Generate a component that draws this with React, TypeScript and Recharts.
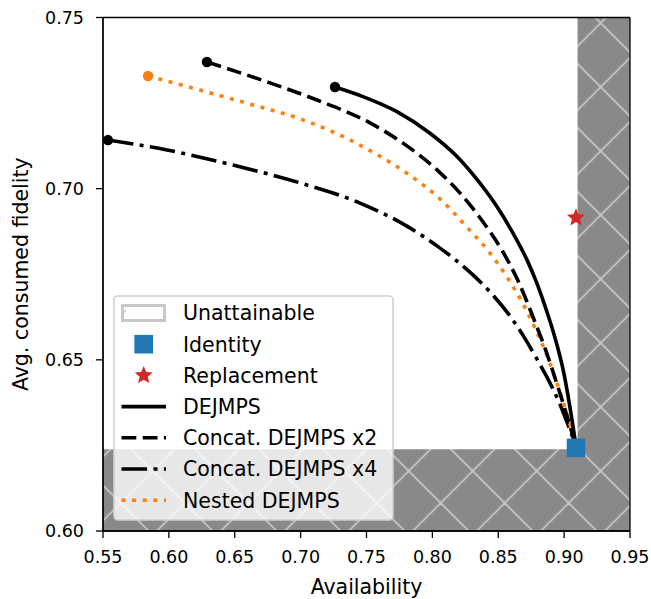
import React from 'react';
import {
  ComposedChart, Line, Scatter, XAxis, YAxis, ReferenceArea, ReferenceLine, Legend,
} from 'recharts';

// ---- data ----
const xTicks = [0.55, 0.6, 0.65, 0.7, 0.75, 0.8, 0.85, 0.9, 0.95];
const yTicks = [0.6, 0.65, 0.7, 0.75];

const dejmpsX = [0.7261, 0.7473, 0.7731, 0.7982, 0.8187, 0.8361, 0.8491, 0.8612, 0.8718, 0.8787, 0.8855, 0.8931, 0.8999, 0.906, 0.909];
const dejmpsY = [0.7297, 0.7269, 0.7225, 0.7162, 0.7094, 0.7016, 0.6947, 0.687, 0.6792, 0.673, 0.6657, 0.6564, 0.6459, 0.6324, 0.6248];

const concat2X = [0.6289, 0.6745, 0.7124, 0.7527, 0.7777, 0.8035, 0.821, 0.8384, 0.8536, 0.8657, 0.8764, 0.8862, 0.8946, 0.9022, 0.909];
const concat2Y = [0.737, 0.7312, 0.7259, 0.7192, 0.7133, 0.7055, 0.6987, 0.6903, 0.6815, 0.6725, 0.6625, 0.6526, 0.6429, 0.6336, 0.6245];

const concat4X = [0.5538, 0.5986, 0.6487, 0.6995, 0.7451, 0.7777, 0.8035, 0.8308, 0.846, 0.8589, 0.8695, 0.8794, 0.8885, 0.8961, 0.9022, 0.909];
const concat4Y = [0.7142, 0.7113, 0.7069, 0.7017, 0.6958, 0.6897, 0.6833, 0.6748, 0.6689, 0.6628, 0.6567, 0.6502, 0.6438, 0.6377, 0.6318, 0.6248];

const nestedX = [0.5842, 0.6236, 0.6616, 0.6995, 0.7238, 0.7527, 0.7807, 0.8058, 0.8278, 0.8437, 0.8566, 0.868, 0.8779, 0.8862, 0.8938, 0.9007, 0.9052, 0.909];
const nestedY = [0.7329, 0.7288, 0.7247, 0.7204, 0.7167, 0.7111, 0.7045, 0.697, 0.6881, 0.6812, 0.6742, 0.6669, 0.6593, 0.652, 0.6441, 0.6359, 0.6301, 0.6248];

const identityPt = [{ x: 0.909, y: 0.6243 }];
const replacementPt = [{ x: 0.909, y: 0.6915 }];

const unattainableX = 0.9102;
const unattainableY = 0.6239;

const legendLabels = ['Unattainable', 'Identity', 'Replacement', 'DEJMPS', 'Concat. DEJMPS x2', 'Concat. DEJMPS x4', 'Nested DEJMPS'];

const zip = (xs: number[], ys: number[]) => xs.map((x, i) => ({ x, y: ys[i] }));
const dejmps = zip(dejmpsX, dejmpsY);
const concat2 = zip(concat2X, concat2Y);
const concat4 = zip(concat4X, concat4Y);
const nested = zip(nestedX, nestedY);

const FONT = 'DejaVu Sans';
const BLUE = '#1f77b4';
const RED = '#d62728';
const ORANGE = '#ff7f0e';
const LW = 3.6;
const DASH = '14.8 6.4';
const DASHDOT = '25.6 6.4 4 6.4';
const DOT = '4 6.6';

const starPath = (cx: number, cy: number, R: number) => {
  const r = R * 0.45;
  const pts: string[] = [];
  for (let i = 0; i < 10; i++) {
    const a = -Math.PI / 2 + (i * Math.PI) / 5;
    const rad = i % 2 === 0 ? R : r;
    pts.push(`${cx + rad * Math.cos(a)},${cy + rad * Math.sin(a)}`);
  }
  return pts.join(' ');
};

const startDot = (color: string) => (props: any) => {
  if (props.index === 0) {
    return <circle key={`s-${props.index}`} cx={props.cx} cy={props.cy} r={5.2} fill={color} />;
  }
  return <g key={`s-${props.index}`} />;
};

const renderLegend = () => {
  const rowY = (i: number) => 18 + i * 31.2;
  const hx1 = 8, hx2 = 53, mx = 30.7, tx = 70;
  return (
    <svg width={281} height={226} style={{ display: 'block' }}>
      <rect x={1} y={1} width={279} height={224} rx={4} ry={4}
        fill="rgba(255,255,255,0.8)" stroke="#d0d0d0" strokeWidth={1.6} />
      {legendLabels.map((lab, i) => {
        const cy = rowY(i);
        let handle: React.ReactNode = null;
        if (i === 0) {
          handle = (
            <g>
              <rect x={hx1 + 1.5} y={cy - 7.5} width={42} height={15} fill="#ffffff" stroke="#c8c8c8" strokeWidth={3} />
              <line x1={hx1 + 1.5} y1={cy + 1} x2={hx1 + 5} y2={cy - 3} stroke="#c8c8c8" strokeWidth={1.5} />
            </g>
          );
        } else if (i === 1) {
          handle = <rect x={mx - 9.3} y={cy - 9.3} width={18.6} height={18.6} fill={BLUE} />;
        } else if (i === 2) {
          handle = <polygon points={starPath(mx, cy, 9.5)} fill={RED} />;
        } else {
          const dash = i === 3 ? undefined : i === 4 ? DASH : i === 5 ? DASHDOT : DOT;
          handle = <line x1={hx1 + 0.5} y1={cy} x2={hx2} y2={cy}
            stroke={i === 6 ? ORANGE : '#000'} strokeWidth={LW} strokeDasharray={dash} />;
        }
        return (
          <g key={lab}>
            {handle}
            <text x={tx} y={cy + 7.4} fontFamily={FONT} fontSize={20.5} fill="#000">{lab}</text>
          </g>
        );
      })}
    </svg>
  );
};

export default function App() {
  return (
    <div style={{ position: 'absolute', left: 0, top: 0, width: 651, height: 599, background: '#fff' }}>
      <svg width={0} height={0} style={{ position: 'absolute' }}>
        <defs>
          <pattern id="hatchX" patternUnits="userSpaceOnUse" x={568.7} y={183} width={64} height={64}>
            <rect x={0} y={0} width={64} height={64} fill="#898989" />
            <line x1={-2} y1={-2} x2={66} y2={66} stroke="#c6c6c6" strokeWidth={1.8} />
            <line x1={-2} y1={66} x2={66} y2={-2} stroke="#c6c6c6" strokeWidth={1.8} />
          </pattern>
        </defs>
      </svg>
      <ComposedChart
        width={651}
        height={599}
        margin={{ top: 17.5, right: 21, bottom: 0, left: 0 }}
        style={{ fontFamily: FONT }}
      >
        <XAxis
          type="number"
          dataKey="x"
          domain={[0.55, 0.95]}
          ticks={xTicks}
          allowDataOverflow
          tickFormatter={(v: number) => v.toFixed(2)}
          height={68}
          tickSize={7}
          tickMargin={13}
          axisLine={{ stroke: '#000', strokeWidth: 1.3 }}
          tickLine={{ stroke: '#000', strokeWidth: 1.3 }}
          tick={{ fontSize: 17.5, fill: '#000', fontFamily: FONT }}
          label={{ value: 'Availability', position: 'insideBottom', offset: 5.5, fontSize: 20.5, fill: '#000', fontFamily: FONT }}
        />
        <YAxis
          type="number"
          dataKey="y"
          domain={[0.6, 0.75]}
          ticks={yTicks}
          allowDataOverflow
          tickFormatter={(v: number) => v.toFixed(2)}
          width={103}
          tickSize={7}
          tickMargin={12}
          axisLine={{ stroke: '#000', strokeWidth: 1.3 }}
          tickLine={{ stroke: '#000', strokeWidth: 1.3 }}
          tick={{ fontSize: 17.5, fill: '#000', fontFamily: FONT }}
          label={{
            value: 'Avg. consumed fidelity', angle: -90, position: 'insideLeft', offset: 21,
            fontSize: 20.5, fill: '#000', fontFamily: FONT, style: { textAnchor: 'middle' },
          }}
        />
        <ReferenceArea x1={unattainableX} x2={0.95} y1={0.6} y2={0.75} fill="url(#hatchX)" fillOpacity={1} stroke="none" />
        <ReferenceArea x1={0.55} x2={0.95} y1={0.6} y2={unattainableY} fill="url(#hatchX)" fillOpacity={1} stroke="none" />

        <Line data={concat4} dataKey="y" type="monotone" stroke="#000" strokeWidth={LW} strokeDasharray={DASHDOT}
          dot={startDot('#000')} activeDot={false} isAnimationActive={false} />
        <Line data={nested} dataKey="y" type="monotone" stroke={ORANGE} strokeWidth={LW} strokeDasharray={DOT}
          dot={startDot(ORANGE)} activeDot={false} isAnimationActive={false} />
        <Line data={concat2} dataKey="y" type="monotone" stroke="#000" strokeWidth={LW} strokeDasharray={DASH}
          dot={startDot('#000')} activeDot={false} isAnimationActive={false} />
        <Line data={dejmps} dataKey="y" type="monotone" stroke="#000" strokeWidth={LW}
          dot={startDot('#000')} activeDot={false} isAnimationActive={false} />

        <Scatter data={identityPt} dataKey="y" isAnimationActive={false}
          shape={(p: any) => <rect x={p.cx - 9.2} y={p.cy - 9.2} width={18.4} height={18.4} fill={BLUE} />} />
        <Scatter data={replacementPt} dataKey="y" isAnimationActive={false}
          shape={(p: any) => <polygon points={starPath(p.cx, p.cy, 9.5)} fill={RED} />} />

        <ReferenceLine x={0.95} stroke="#000" strokeWidth={1.3} />
        <ReferenceLine y={0.75} stroke="#000" strokeWidth={1.3} />
        <ReferenceLine x={0.55} stroke="#000" strokeWidth={1.3} />
        <ReferenceLine y={0.6} stroke="#000" strokeWidth={1.3} />

        <Legend
          content={renderLegend}
          layout="horizontal"
          verticalAlign="middle"
          align="center"
          wrapperStyle={{ left: 113, top: 295, width: 281, height: 226 }}
        />
      </ComposedChart>
    </div>
  );
}
